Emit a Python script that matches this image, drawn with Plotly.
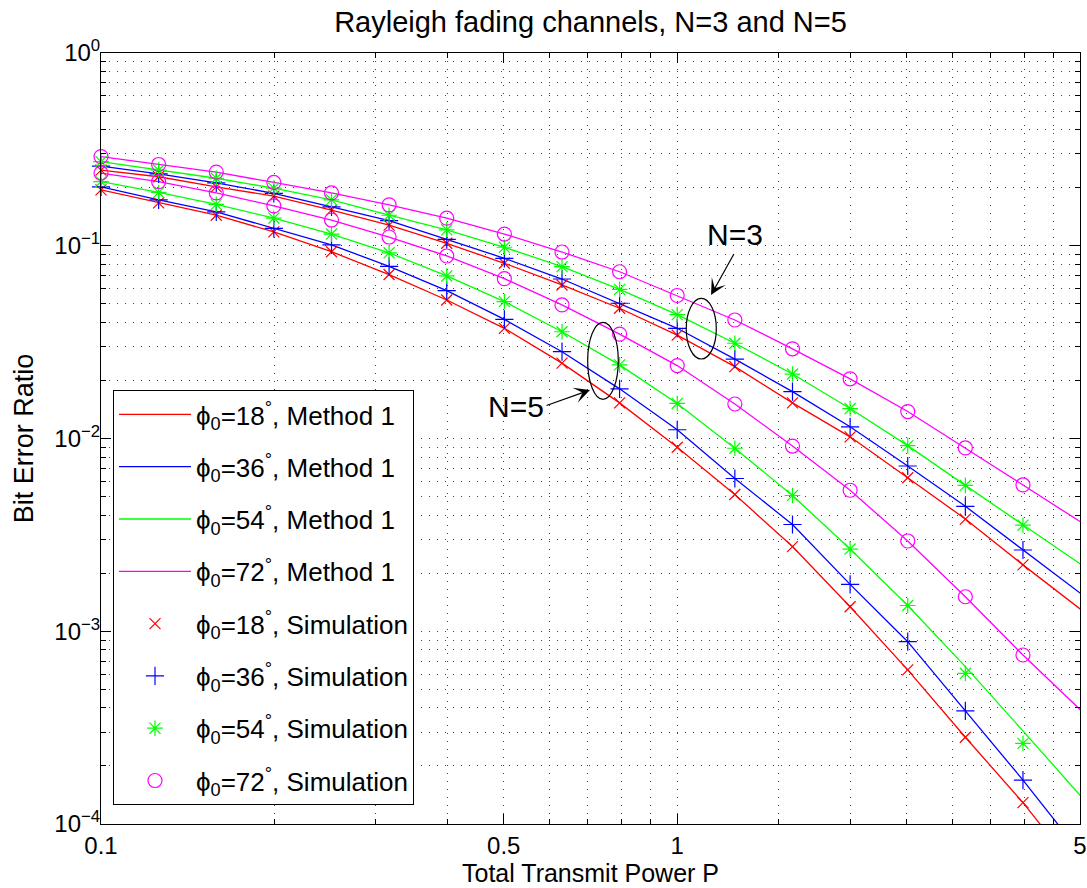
import plotly.graph_objects as go

# Total transmit power P, 1 dB steps from -10 dB to +7 dB
power = [0.1, 0.1259, 0.1585, 0.1995, 0.2512, 0.3162, 0.3981, 0.5012, 0.6310,
         0.7943, 1.0, 1.2589, 1.5849, 1.9953, 2.5119, 3.1623, 3.9811, 5.0119]
sim_power = power[:17]

# Method 1 (analytical) BER, N = 3
method1_n3_18 = [0.247, 0.228, 0.202, 0.181, 0.153, 0.128, 0.103, 0.0811, 0.0626,
                 0.0474, 0.0344, 0.0236, 0.0153, 0.0102, 0.00626, 0.00382, 0.00221, 0.0013]
method1_n3_36 = [0.259, 0.236, 0.212, 0.187, 0.159, 0.135, 0.108, 0.0861, 0.0672,
                 0.0503, 0.0373, 0.0258, 0.0175, 0.0115, 0.0072, 0.00445, 0.00264, 0.00157]
method1_n3_54 = [0.273, 0.247, 0.224, 0.199, 0.173, 0.144, 0.121, 0.0982, 0.0779,
                 0.0594, 0.0439, 0.0312, 0.0216, 0.0143, 0.00918, 0.00571, 0.00355, 0.00223]
method1_n3_72 = [0.290, 0.264, 0.241, 0.213, 0.188, 0.163, 0.139, 0.115, 0.0928,
                 0.0733, 0.0552, 0.0412, 0.0292, 0.0204, 0.0138, 0.00893, 0.00574, 0.00369]

# Method 1 (analytical) BER, N = 5
method1_n5_18 = [0.195, 0.167, 0.144, 0.118, 0.0931, 0.0709, 0.0523, 0.0373, 0.0246,
                 0.0153, 0.00901, 0.00512, 0.00275, 0.00134, 0.00063, 0.000282, 0.000129, 0.0000544]
method1_n5_36 = [0.202, 0.173, 0.150, 0.123, 0.101, 0.0782, 0.0585, 0.0415, 0.0282,
                 0.0181, 0.0111, 0.0062, 0.00358, 0.00175, 0.000883, 0.000386, 0.000169, 0.0000707]
method1_n5_54 = [0.215, 0.189, 0.164, 0.139, 0.115, 0.0919, 0.0697, 0.0513, 0.0358,
                 0.0241, 0.0152, 0.0089, 0.00506, 0.00267, 0.00136, 0.000655, 0.000304, 0.00014]
method1_n5_72 = [0.238, 0.215, 0.188, 0.161, 0.136, 0.111, 0.0885, 0.0675, 0.0493,
                 0.0348, 0.0239, 0.0151, 0.00914, 0.00539, 0.00294, 0.00151, 0.000753, 0.00039]

# Simulated BER, N = 3
sim_n3_18 = [0.247, 0.228, 0.202, 0.181, 0.153, 0.128, 0.103, 0.0811, 0.0626,
             0.0474, 0.0344, 0.0236, 0.0153, 0.0102, 0.00626, 0.00382, 0.00221]
sim_n3_36 = [0.259, 0.236, 0.212, 0.187, 0.159, 0.135, 0.108, 0.0861, 0.0672,
             0.0503, 0.0373, 0.0258, 0.0175, 0.0115, 0.0072, 0.00445, 0.00264]
sim_n3_54 = [0.273, 0.247, 0.224, 0.199, 0.173, 0.144, 0.121, 0.0982, 0.0779,
             0.0594, 0.0439, 0.0312, 0.0216, 0.0143, 0.00918, 0.00571, 0.00355]
sim_n3_72 = [0.290, 0.264, 0.241, 0.213, 0.188, 0.163, 0.139, 0.115, 0.0928,
             0.0733, 0.0552, 0.0412, 0.0292, 0.0204, 0.0138, 0.00893, 0.00574]

# Simulated BER, N = 5
sim_n5_18 = [0.195, 0.167, 0.144, 0.118, 0.0931, 0.0709, 0.0523, 0.0373, 0.0246,
             0.0153, 0.00901, 0.00512, 0.00275, 0.00134, 0.00063, 0.000282, 0.000129]
sim_n5_36 = [0.202, 0.173, 0.150, 0.123, 0.101, 0.0782, 0.0585, 0.0415, 0.0282,
             0.0181, 0.0111, 0.0062, 0.00358, 0.00175, 0.000883, 0.000386, 0.000169]
sim_n5_54 = [0.215, 0.189, 0.164, 0.139, 0.115, 0.0919, 0.0697, 0.0513, 0.0358,
             0.0241, 0.0152, 0.0089, 0.00506, 0.00267, 0.00136, 0.000605, 0.000262]
sim_n5_72 = [0.238, 0.215, 0.188, 0.161, 0.136, 0.111, 0.0885, 0.0675, 0.0493,
             0.0348, 0.0239, 0.0151, 0.00914, 0.00539, 0.00294, 0.00151, 0.000753]

angles = ["18", "36", "54", "72"]
colors = ["#ff0000", "#0000ff", "#00ff00", "#ff00ff"]
symbols = ["x-thin", "cross-thin", "asterisk", "circle-open"]
marker_sizes = [11, 13, 13, 14]

method1_curves = [(method1_n3_18, method1_n5_18), (method1_n3_36, method1_n5_36),
                  (method1_n3_54, method1_n5_54), (method1_n3_72, method1_n5_72)]
sim_curves = [(sim_n3_18, sim_n5_18), (sim_n3_36, sim_n5_36),
              (sim_n3_54, sim_n5_54), (sim_n3_72, sim_n5_72)]

x_major = [0.1, 0.5, 1, 5]
x_major_text = ["0.1", "0.5", "1", "5"]
x_minor = [0.2, 0.3, 0.4, 0.6, 0.7, 0.8, 0.9, 1.5, 2, 2.5, 3, 3.5, 4, 4.5]
y_major = [1e-4, 1e-3, 1e-2, 1e-1, 1]
y_major_text = ["10<sup>\u22124</sup>", "10<sup>\u22123</sup>", "10<sup>\u22122</sup>",
                "10<sup>\u22121</sup>", "10<sup>0</sup>"]
y_minor = [m * 10.0 ** e for e in range(-4, 0) for m in range(2, 10)]

FONT = "Liberation Sans, Arial, sans-serif"


def legend_label(angle, kind):
    return "\u03d5<sub>0</sub>=" + angle + "<sup>\u00b0</sup>, " + kind


fig = go.Figure()

for angle, color, curves in zip(angles, colors, method1_curves):
    name = legend_label(angle, "Method 1")
    for i, ber in enumerate(curves):
        fig.add_trace(go.Scatter(
            x=power, y=ber, mode="lines", name=name,
            legendgroup="m1_" + angle, showlegend=(i == 0),
            line=dict(color=color, width=1.3),
        ))

for angle, color, sym, msize, curves in zip(angles, colors, symbols, marker_sizes, sim_curves):
    name = legend_label(angle, "Simulation")
    for i, ber in enumerate(curves):
        fig.add_trace(go.Scatter(
            x=sim_power, y=ber, mode="markers", name=name,
            legendgroup="sim_" + angle, showlegend=(i == 0),
            cliponaxis=False,
            marker=dict(symbol=sym, size=msize, color=color,
                        line=dict(color=color, width=1.2)),
        ))

grid_dash = "1px,7px"
grid_color = "#444444"

axis_common = dict(
    showline=True, linecolor="black", linewidth=1, mirror="allticks",
    ticks="inside", ticklen=10, tickwidth=1, tickcolor="black",
    showgrid=True, gridcolor=grid_color, gridwidth=1, griddash=grid_dash,
    zeroline=False, automargin=False,
    tickfont=dict(family=FONT, size=24, color="black"),
)

fig.update_xaxes(
    type="log", range=[-1, 0.69897],
    tickmode="array", tickvals=x_major, ticktext=x_major_text,
    ticklabelstandoff=0,
    minor=dict(tickmode="array", tickvals=x_minor, ticks="inside", ticklen=5,
               tickcolor="black", showgrid=True, gridcolor=grid_color,
               griddash=grid_dash, gridwidth=1),
    title=dict(text="Total Transmit Power P", standoff=3,
               font=dict(family=FONT, size=25, color="black")),
    **axis_common,
)
fig.update_yaxes(
    type="log", range=[-4, 0],
    tickmode="array", tickvals=y_major, ticktext=y_major_text,
    ticklabelstandoff=-5,
    minor=dict(tickmode="array", tickvals=y_minor, ticks="inside", ticklen=5,
               tickcolor="black", showgrid=True, gridcolor=grid_color,
               griddash=grid_dash, gridwidth=1),
    title=dict(text="Bit Error Ratio", standoff=12,
               font=dict(family=FONT, size=27, color="black")),
    **axis_common,
)

# Ellipses grouping the N=3 and N=5 curve families
fig.add_shape(type="circle", xref="paper", yref="paper",
              x0=0.5978, x1=0.6285, y0=0.6031, y1=0.6818,
              line=dict(color="black", width=1.2))
fig.add_shape(type="circle", xref="paper", yref="paper",
              x0=0.4971, x1=0.5284, y0=0.5508, y1=0.6507,
              line=dict(color="black", width=1.2))

# Arrows pointing at the ellipses
fig.add_annotation(xref="paper", yref="paper", x=0.6231, y=0.6861,
                   ax=24, ay=-43, text=" ", font=dict(size=1),
                   showarrow=True, arrowhead=3, arrowsize=2.2, arrowwidth=1.2,
                   arrowcolor="black")
fig.add_annotation(xref="paper", yref="paper", x=0.4995, y=0.5629,
                   ax=-45, ay=16, text=" ", font=dict(size=1),
                   showarrow=True, arrowhead=3, arrowsize=2.2, arrowwidth=1.2,
                   arrowcolor="black")

# Family labels
fig.add_annotation(xref="paper", yref="paper", x=0.6481, y=0.7652,
                   xanchor="center", yanchor="middle",
                   text="N=3", showarrow=False,
                   font=dict(family=FONT, size=30, color="black"))
fig.add_annotation(xref="paper", yref="paper", x=0.4234, y=0.5415,
                   xanchor="center", yanchor="middle",
                   text="N=5", showarrow=False,
                   font=dict(family=FONT, size=30, color="black"))

fig.update_layout(
    width=1087, height=888,
    template="none",
    paper_bgcolor="white", plot_bgcolor="white",
    margin=dict(l=101, r=7, t=53, b=64, pad=0),
    font=dict(family=FONT, size=25, color="black"),
    title=dict(text="Rayleigh fading channels, N=3 and N=5",
               x=0.5, xref="paper", xanchor="center",
               y=1 - 22 / 888, yref="container", yanchor="middle",
               font=dict(family=FONT, size=29, color="black")),
    legend=dict(
        x=0.01226, y=0.5629, xanchor="left", yanchor="top",
        bgcolor="white", bordercolor="black", borderwidth=1,
        font=dict(family=FONT, size=26, color="black"),
        tracegroupgap=15.5, itemwidth=72,
    ),
    showlegend=True,
)

fig.write_html("out.html")
